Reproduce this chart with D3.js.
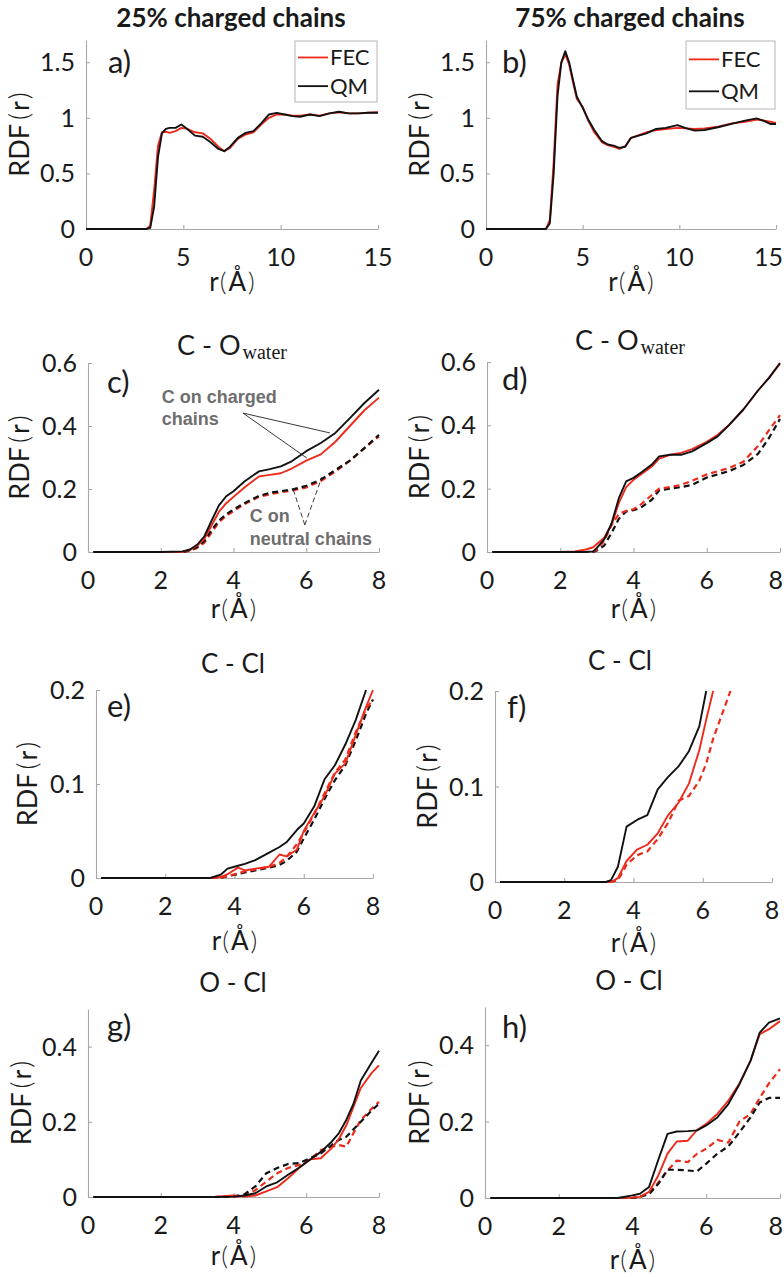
<!DOCTYPE html>
<html><head><meta charset="utf-8">
<script src="https://cdn.jsdelivr.net/npm/d3@7"></script>
<style>
html,body{margin:0;padding:0;background:#fff;}
svg{display:block;}
</style></head>
<body>
<svg id="chart" width="784" height="1277"></svg>
<script>
// ---------------- DATA ----------------
const colTitles = ["25% charged chains", "75% charged chains"];
const seriesNames = ["FEC", "QM"];

// a) 25% charged, overall RDF
const aR   = [0, 3.1, 3.3, 3.5, 3.7, 3.9, 4.1, 4.3, 4.6, 4.9, 5.2, 5.6, 6.0, 6.4, 6.8, 7.1, 7.4, 7.8, 8.2, 8.6, 9.0, 9.4, 9.8, 10.2, 10.6, 11.0, 11.5, 12.0, 12.5, 13.0, 13.5, 14.0, 14.5, 15.0];
const aQM  = [0, 0, 0.01, 0.2, 0.65, 0.86, 0.9, 0.91, 0.91, 0.94, 0.9, 0.84, 0.83, 0.78, 0.72, 0.70, 0.74, 0.82, 0.865, 0.88, 0.95, 1.03, 1.045, 1.03, 1.015, 1.01, 1.03, 1.015, 1.04, 1.055, 1.04, 1.04, 1.045, 1.045];
const aFEC = [0, 0, 0.03, 0.35, 0.75, 0.87, 0.875, 0.865, 0.88, 0.91, 0.9, 0.87, 0.86, 0.81, 0.74, 0.70, 0.73, 0.81, 0.85, 0.87, 0.94, 1.0, 1.03, 1.03, 1.02, 1.02, 1.03, 1.02, 1.04, 1.05, 1.04, 1.04, 1.045, 1.05];

// b) 75% charged, overall RDF
const bR   = [0, 3.1, 3.3, 3.5, 3.7, 3.9, 4.1, 4.3, 4.5, 4.7, 5.0, 5.3, 5.6, 6.0, 6.3, 6.6, 6.9, 7.2, 7.5, 7.9, 8.3, 8.8, 9.3, 9.9, 10.3, 10.8, 11.3, 12.0, 12.7, 13.4, 14.0, 14.4, 14.7, 15.0];
const bQM  = [0, 0, 0.05, 0.5, 1.2, 1.5, 1.6, 1.5, 1.34, 1.19, 1.09, 0.98, 0.89, 0.79, 0.76, 0.75, 0.73, 0.74, 0.82, 0.84, 0.86, 0.9, 0.91, 0.935, 0.91, 0.885, 0.89, 0.915, 0.945, 0.975, 0.995, 0.97, 0.945, 0.945];
const bFEC = [0, 0, 0.08, 0.6, 1.3, 1.5, 1.57, 1.48, 1.32, 1.17, 1.1, 0.97, 0.87, 0.78, 0.755, 0.74, 0.72, 0.745, 0.82, 0.845, 0.87, 0.89, 0.9, 0.91, 0.905, 0.9, 0.905, 0.92, 0.95, 0.965, 0.985, 0.975, 0.965, 0.955];

// c) 25% charged, C - O_water  (solid: C on charged chains, dashed: C on neutral chains)
const cR       = [0.15, 1, 2, 2.6, 2.8, 3.0, 3.2, 3.4, 3.6, 3.8, 4.0, 4.3, 4.7, 5.0, 5.3, 5.6, 6.0, 6.4, 6.8, 7.2, 7.6, 8.0];
const cQM      = [0, 0, 0, 0.002, 0.008, 0.023, 0.05, 0.1, 0.148, 0.177, 0.193, 0.224, 0.256, 0.263, 0.272, 0.288, 0.32, 0.346, 0.378, 0.425, 0.473, 0.515];
const cFEC     = [0, 0, 0, 0.001, 0.006, 0.02, 0.042, 0.085, 0.128, 0.155, 0.175, 0.205, 0.24, 0.245, 0.25, 0.265, 0.29, 0.31, 0.35, 0.4, 0.45, 0.49];
const cQMneu   = [0, 0, 0, 0, 0.005, 0.015, 0.035, 0.07, 0.1, 0.12, 0.135, 0.155, 0.178, 0.188, 0.193, 0.198, 0.21, 0.23, 0.26, 0.29, 0.33, 0.372];
const cFECneu  = [0, 0, 0, 0, 0.004, 0.013, 0.03, 0.062, 0.095, 0.115, 0.13, 0.152, 0.175, 0.183, 0.19, 0.195, 0.205, 0.225, 0.255, 0.29, 0.33, 0.367];

// d) 75% charged, C - O_water
const dR       = [0.15, 1, 2, 2.4, 2.7, 2.9, 3.0, 3.2, 3.4, 3.6, 3.8, 4.0, 4.2, 4.5, 4.7, 5.0, 5.3, 5.6, 6.0, 6.3, 6.6, 7.0, 7.4, 7.7, 8.0];
const dQM      = [0, 0, 0, 0, 0, 0.002, 0.013, 0.04, 0.09, 0.17, 0.223, 0.234, 0.25, 0.276, 0.302, 0.307, 0.307, 0.318, 0.344, 0.365, 0.4, 0.45, 0.51, 0.55, 0.597];
const dFEC     = [0, 0, 0, 0.002, 0.008, 0.015, 0.025, 0.045, 0.085, 0.155, 0.205, 0.228, 0.245, 0.27, 0.295, 0.307, 0.313, 0.325, 0.348, 0.37, 0.4, 0.45, 0.51, 0.55, 0.595];
const dQMneu   = [0, 0, 0, 0, 0, 0, 0.005, 0.02, 0.06, 0.105, 0.128, 0.132, 0.14, 0.165, 0.195, 0.2, 0.205, 0.212, 0.235, 0.245, 0.255, 0.275, 0.31, 0.36, 0.42];
const dFECneu  = [0, 0, 0, 0, 0, 0.001, 0.008, 0.035, 0.085, 0.12, 0.13, 0.135, 0.15, 0.18, 0.2, 0.205, 0.212, 0.225, 0.245, 0.255, 0.265, 0.285, 0.335, 0.385, 0.432];

// e) 25% charged, C - Cl
const eR       = [0.15, 2, 3.3, 3.6, 3.8, 4.1, 4.3, 4.6, 5.0, 5.3, 5.5, 5.8, 6.0, 6.3, 6.6, 6.9, 7.2, 7.5, 7.8, 8.0];
const eQM      = [0, 0, 0, 0.0035, 0.01, 0.013, 0.015, 0.019, 0.027, 0.033, 0.038, 0.051, 0.058, 0.076, 0.105, 0.12, 0.142, 0.168, 0.2, null];
const eFEC     = [0, 0, 0, 0.001, 0.004, 0.011, 0.008, 0.01, 0.012, 0.025, 0.023, 0.03, 0.05, 0.069, 0.087, 0.111, 0.122, 0.152, 0.182, 0.2];
const eQMneu   = [0, 0, 0, 0, 0.002, 0.004, 0.006, 0.008, 0.011, 0.014, 0.018, 0.028, 0.042, 0.062, 0.084, 0.104, 0.12, 0.146, 0.175, 0.19];
const eFECneu  = [0, 0, 0, 0, 0.002, 0.005, 0.007, 0.009, 0.012, 0.016, 0.022, 0.036, 0.048, 0.068, 0.09, 0.112, 0.126, 0.155, 0.18, 0.19];

// f) 75% charged, C - Cl
const fR       = [0.15, 2, 3.2, 3.35, 3.55, 3.8, 4.1, 4.4, 4.7, 5.0, 5.3, 5.6, 5.9, 6.1, 6.3, 6.5, 6.8];
const fQM      = [0, 0, 0, 0.002, 0.016, 0.058, 0.065, 0.07, 0.097, 0.11, 0.121, 0.137, 0.163, 0.2, null, null, null];
const fFEC     = [0, 0, 0, 0, 0.004, 0.022, 0.034, 0.039, 0.051, 0.07, 0.083, 0.103, 0.138, 0.17, 0.2, null, null];
const fFECneu  = [0, 0, 0, 0, 0.002, 0.018, 0.028, 0.032, 0.045, 0.062, 0.085, 0.09, 0.106, 0.124, 0.15, 0.17, 0.2];

// g) 25% charged, O - Cl
const gR       = [0.15, 2, 3.5, 4.0, 4.3, 4.6, 4.9, 5.2, 5.5, 5.8, 6.1, 6.4, 6.7, 6.9, 7.1, 7.3, 7.5, 7.8, 8.0];
const gQM      = [0, 0, 0, 0.001, 0.004, 0.01, 0.028, 0.039, 0.059, 0.078, 0.099, 0.12, 0.147, 0.17, 0.205, 0.248, 0.31, 0.358, 0.389];
const gFEC     = [0, 0, 0.001, 0.004, 0.001, 0.004, 0.015, 0.026, 0.05, 0.077, 0.1, 0.103, 0.13, 0.155, 0.19, 0.24, 0.29, 0.33, 0.35];
const gQMneu   = [0, 0, 0, 0.002, 0.007, 0.028, 0.063, 0.077, 0.088, 0.09, 0.103, 0.116, 0.138, 0.152, 0.16, 0.18, 0.2, 0.23, 0.248];
const gFECneu  = [0, 0, 0, 0, 0.004, 0.018, 0.041, 0.063, 0.077, 0.085, 0.099, 0.125, 0.134, 0.138, 0.134, 0.17, 0.205, 0.235, 0.253];

// h) 75% charged, O - Cl
const hR       = [0.15, 2, 3.6, 4.0, 4.2, 4.45, 4.7, 4.95, 5.2, 5.5, 5.75, 6.0, 6.3, 6.6, 6.9, 7.2, 7.45, 7.7, 8.0];
const hQM      = [0, 0, 0, 0.007, 0.011, 0.029, 0.1, 0.168, 0.174, 0.175, 0.177, 0.19, 0.211, 0.246, 0.298, 0.359, 0.433, 0.459, 0.47];
const hFEC     = [0, 0, 0, 0.001, 0.003, 0.016, 0.059, 0.116, 0.148, 0.15, 0.178, 0.194, 0.22, 0.255, 0.3, 0.359, 0.429, 0.442, 0.463];
const hQMneu   = [0, 0, 0, 0, 0.003, 0.01, 0.037, 0.074, 0.074, 0.072, 0.07, 0.09, 0.116, 0.135, 0.172, 0.211, 0.25, 0.262, 0.262];
const hFECneu  = [0, 0, 0, 0, 0.003, 0.014, 0.04, 0.072, 0.098, 0.094, 0.116, 0.129, 0.152, 0.145, 0.2, 0.22, 0.262, 0.3, 0.337];

// tick values
const xTicksWide = [0, 5, 10, 15];
const xTicksNarrow = [0, 2, 4, 6, 8];
const yTicksAB = [0, 0.5, 1, 1.5];
const yTicksCD = [0, 0.2, 0.4, 0.6];
const yTicksEF = [0, 0.1, 0.2];
const yTicksGH = [0, 0.2, 0.4];

// annotation text (panel c), anchored in data units
const annCharged = ["C on charged", "chains"];
const annNeutral = ["C on", "neutral chains"];

// ---------------- LAYOUT ----------------
const W = 784;
const RED = "#ee2a1b", BLACK = "#111111";
const svg = d3.select("#chart");
const FONT = "Lato, 'Open Sans', sans-serif";

// column titles
svg.append("text").attr("x", 231).attr("y", 27).attr("text-anchor", "middle")
  .attr("font-family", FONT).attr("font-weight", 700).attr("font-size", 26).attr("fill", "#1a1a1a").text(colTitles[0]);
svg.append("text").attr("x", 630).attr("y", 27).attr("text-anchor", "middle")
  .attr("font-family", FONT).attr("font-weight", 700).attr("font-size", 26).attr("fill", "#1a1a1a").text(colTitles[1]);

const panels = [
  {letter:"a)", L:86, R:378, B:229, T:40, xMax:15, yMax:1.7, xt:xTicksWide, yt:yTicksAB, r:aR,
   series:[{y:aFEC,c:RED},{y:aQM,c:BLACK}], legend:{x:295,y:41,w:82,h:61}, lx:108, ly:73, ylx:20, xlb:291},
  {letter:"b)", L:486, R:776, B:229, T:40, xMax:15, yMax:1.7, xt:xTicksWide, yt:yTicksAB, r:bR,
   series:[{y:bFEC,c:RED},{y:bQM,c:BLACK}], legend:{x:686,y:41,w:89,h:68}, lx:502, ly:73, ylx:420, xlb:291},
  {letter:"c)", L:88, R:379, B:552, T:363, xMax:8, yMax:0.6, xt:xTicksNarrow, yt:yTicksCD, r:cR,
   series:[{y:cFECneu,c:RED,dash:true},{y:cQMneu,c:BLACK,dash:true},{y:cFEC,c:RED},{y:cQM,c:BLACK}],
   title:"CO", lx:107, ly:393, ylx:20, xlb:618, tx:232, ty:355, annotate:true},
  {letter:"d)", L:487, R:780, B:552, T:362, xMax:8, yMax:0.6, xt:xTicksNarrow, yt:yTicksCD, r:dR,
   series:[{y:dQMneu,c:BLACK,dash:true},{y:dFECneu,c:RED,dash:true},{y:dFEC,c:RED},{y:dQM,c:BLACK}],
   title:"CO", lx:502, ly:390, ylx:420, xlb:618, tx:630, ty:350},
  {letter:"e)", L:96, R:373, B:878, T:690, xMax:8, yMax:0.2, xt:xTicksNarrow, yt:yTicksEF, r:eR,
   series:[{y:eQMneu,c:BLACK,dash:true},{y:eFECneu,c:RED,dash:true},{y:eFEC,c:RED},{y:eQM,c:BLACK}],
   title:"C - Cl", lx:107, ly:717, ylx:28, xlb:950, tx:233, ty:673},
  {letter:"f)", L:495, R:772, B:882, T:691, xMax:8, yMax:0.2, xt:xTicksNarrow, yt:yTicksEF, r:fR,
   series:[{y:fFECneu,c:RED,dash:true},{y:fFEC,c:RED},{y:fQM,c:BLACK}],
   title:"C - Cl", lx:507, ly:718, ylx:428, xlb:952, tx:620, ty:670},
  {letter:"g)", L:88, R:379, B:1197, T:1009, xMax:8, yMax:0.5, xt:xTicksNarrow, yt:yTicksGH, r:gR,
   series:[{y:gFECneu,c:RED,dash:true},{y:gQMneu,c:BLACK,dash:true},{y:gFEC,c:RED},{y:gQM,c:BLACK}],
   title:"O - Cl", lx:107, ly:1037, ylx:22, xlb:1265, tx:233, ty:992},
  {letter:"h)", L:485, R:780, B:1198, T:1007, xMax:8, yMax:0.5, xt:xTicksNarrow, yt:yTicksGH, r:hR,
   series:[{y:hFECneu,c:RED,dash:true},{y:hQMneu,c:BLACK,dash:true},{y:hFEC,c:RED},{y:hQM,c:BLACK}],
   title:"O - Cl", lx:502, ly:1038, ylx:420, xlb:1269, tx:629, ty:990},
];

const fmt = v => (v === 0 ? "0" : String(v));

panels.forEach((p, i) => {
  const x = d3.scaleLinear().domain([0, p.xMax]).range([p.L, p.R]);
  const y = d3.scaleLinear().domain([0, p.yMax]).range([p.B, p.T]);
  const g = svg.append("g");

  // clip
  const cid = "clip" + i;
  svg.append("clipPath").attr("id", cid).append("rect")
    .attr("x", p.L - 2).attr("y", p.T - 1).attr("width", p.R - p.L + 6).attr("height", p.B - p.T + 3);

  // axes: light gray lines with inward ticks
  const axisCol = "#a8a8a8";
  const xa = g.append("g").attr("transform", `translate(0,${p.B})`)
    .call(d3.axisBottom(x).tickValues(p.xt).tickSizeInner(-4).tickSizeOuter(0).tickFormat(""));
  const ya = g.append("g").attr("transform", `translate(${p.L},0)`)
    .call(d3.axisLeft(y).tickValues(p.yt).tickSizeInner(-4).tickSizeOuter(0).tickFormat(""));
  [xa, ya].forEach(a => {
    a.select(".domain").attr("stroke", axisCol).attr("stroke-width", 1.1);
    a.selectAll(".tick line").attr("stroke", axisCol).attr("stroke-width", 1.1);
  });

  // tick labels (last label kept inside the page edge)
  g.selectAll(".xl").data(p.xt).join("text")
    .attr("font-family", FONT).attr("font-size", 25).attr("fill", "#1a1a1a").text(fmt)
    .each(function(d) {
      const t = d3.select(this);
      const cx = x(d);
      const w = this.getComputedTextLength();
      if (cx + w / 2 > W - 1) {
        t.attr("x", W - 1).attr("text-anchor", "end");
      } else {
        t.attr("x", cx).attr("text-anchor", "middle");
      }
      t.attr("y", p.B + 37);
    });
  g.selectAll(".yl").data(p.yt).join("text")
    .attr("x", p.L - 11).attr("y", d => y(d)).attr("dy", "0.36em").attr("text-anchor", "end")
    .attr("font-family", FONT).attr("font-size", 25).attr("fill", "#1a1a1a").text(fmt);

  // y label RDF(r)
  const yc = (p.T + p.B) / 2;
  const yl = g.append("text").attr("transform", `translate(${p.ylx + 9},${yc}) rotate(-90)`)
    .attr("text-anchor", "middle").attr("font-family", FONT).attr("font-size", 27).attr("fill", "#1a1a1a");
  yl.append("tspan").text("RDF");
  yl.append("tspan").attr("font-weight", 300).attr("dx", 4).text("(");
  yl.append("tspan").attr("dx", 2).text("r");
  yl.append("tspan").attr("font-weight", 300).attr("dx", 2).text(")");

  // x label r(Å)
  const xl = g.append("text").attr("x", (p.L + p.R) / 2).attr("y", p.xlb)
    .attr("text-anchor", "middle").attr("font-family", FONT).attr("font-size", 26).attr("fill", "#1a1a1a");
  xl.append("tspan").text("r");
  xl.append("tspan").attr("font-weight", 300).attr("dx", 1).text("(");
  xl.append("tspan").attr("dx", 2).text("Å");
  xl.append("tspan").attr("font-weight", 300).attr("dx", 2).text(")");

  // panel title
  if (p.title === "CO") {
    const t = g.append("text").attr("x", p.tx).attr("y", p.ty).attr("text-anchor", "middle").attr("fill", "#1a1a1a");
    t.append("tspan").attr("font-family", FONT).attr("font-size", 27).text("C - O");
    t.append("tspan").attr("font-family", "'Liberation Serif', 'DejaVu Serif', serif").attr("font-size", 20)
      .attr("dx", 2).attr("dy", 4).text("water");
  } else if (p.title) {
    g.append("text").attr("x", p.tx).attr("y", p.ty).attr("text-anchor", "middle")
      .attr("font-family", FONT).attr("font-size", 26).attr("fill", "#1a1a1a").text(p.title);
  }

  // panel letter
  g.append("text").attr("x", p.lx).attr("y", p.ly).attr("font-family", FONT).attr("font-size", 31)
    .attr("fill", "#1a1a1a").text(p.letter);

  // curves
  const line = d3.line().defined(d => d[1] !== null).x(d => x(d[0])).y(d => y(d[1]));
  const cg = g.append("g").attr("clip-path", `url(#${cid})`);
  p.series.forEach(s => {
    const pts = p.r.map((rv, k) => [rv, s.y[k]]);
    cg.append("path").attr("d", line(pts)).attr("fill", "none")
      .attr("stroke", s.c).attr("stroke-width", s.dash ? 2.2 : 1.9)
      .attr("stroke-linejoin", "round")
      .attr("stroke-dasharray", s.dash ? "6,4" : null);
  });

  // legend
  if (p.legend) {
    const lg = p.legend;
    g.append("rect").attr("x", lg.x).attr("y", lg.y).attr("width", lg.w).attr("height", lg.h)
      .attr("fill", "#fff").attr("stroke", "#b5b5b5").attr("stroke-width", 1);
    const rows = [{n: seriesNames[0], c: RED}, {n: seriesNames[1], c: BLACK}];
    rows.forEach((row, k) => {
      const cy = lg.y + lg.h * (k === 0 ? 0.27 : 0.74);
      g.append("line").attr("x1", lg.x + 3).attr("x2", lg.x + 33).attr("y1", cy).attr("y2", cy)
        .attr("stroke", row.c).attr("stroke-width", 1.8);
      g.append("text").attr("x", lg.x + 35).attr("y", cy).attr("dy", "0.36em")
        .attr("font-family", FONT).attr("font-size", 22).attr("fill", "#1a1a1a").text(row.n);
    });
  }

  // annotations (panel c)
  if (p.annotate) {
    const gray = "#6e6e6e";
    const AF = "'Liberation Sans', Arial, sans-serif";
    annCharged.forEach((s, k) => {
      g.append("text").attr("x", x(2.03)).attr("y", y(k === 0 ? 0.473 : 0.403))
        .attr("font-family", AF).attr("font-weight", 700).attr("font-size", 18).attr("fill", gray).text(s);
    });
    annNeutral.forEach((s, k) => {
      g.append("text").attr("x", x(4.45)).attr("y", y(k === 0 ? 0.095 : 0.022))
        .attr("font-family", AF).attr("font-weight", 700).attr("font-size", 18).attr("fill", gray).text(s);
    });
    const o1 = [4.26, 0.441];
    [[6.65, 0.378], [6.02, 0.298]].forEach(e => {
      g.append("line").attr("x1", x(o1[0])).attr("y1", y(o1[1])).attr("x2", x(e[0])).attr("y2", y(e[1]))
        .attr("stroke", "#222").attr("stroke-width", 0.9);
    });
    const o2 = [5.96, 0.086];
    [[5.63, 0.203], [6.43, 0.238]].forEach(e => {
      g.append("line").attr("x1", x(o2[0])).attr("y1", y(o2[1])).attr("x2", x(e[0])).attr("y2", y(e[1]))
        .attr("stroke", "#222").attr("stroke-width", 0.9).attr("stroke-dasharray", "5,3");
    });
  }
});
</script>
</body></html>
